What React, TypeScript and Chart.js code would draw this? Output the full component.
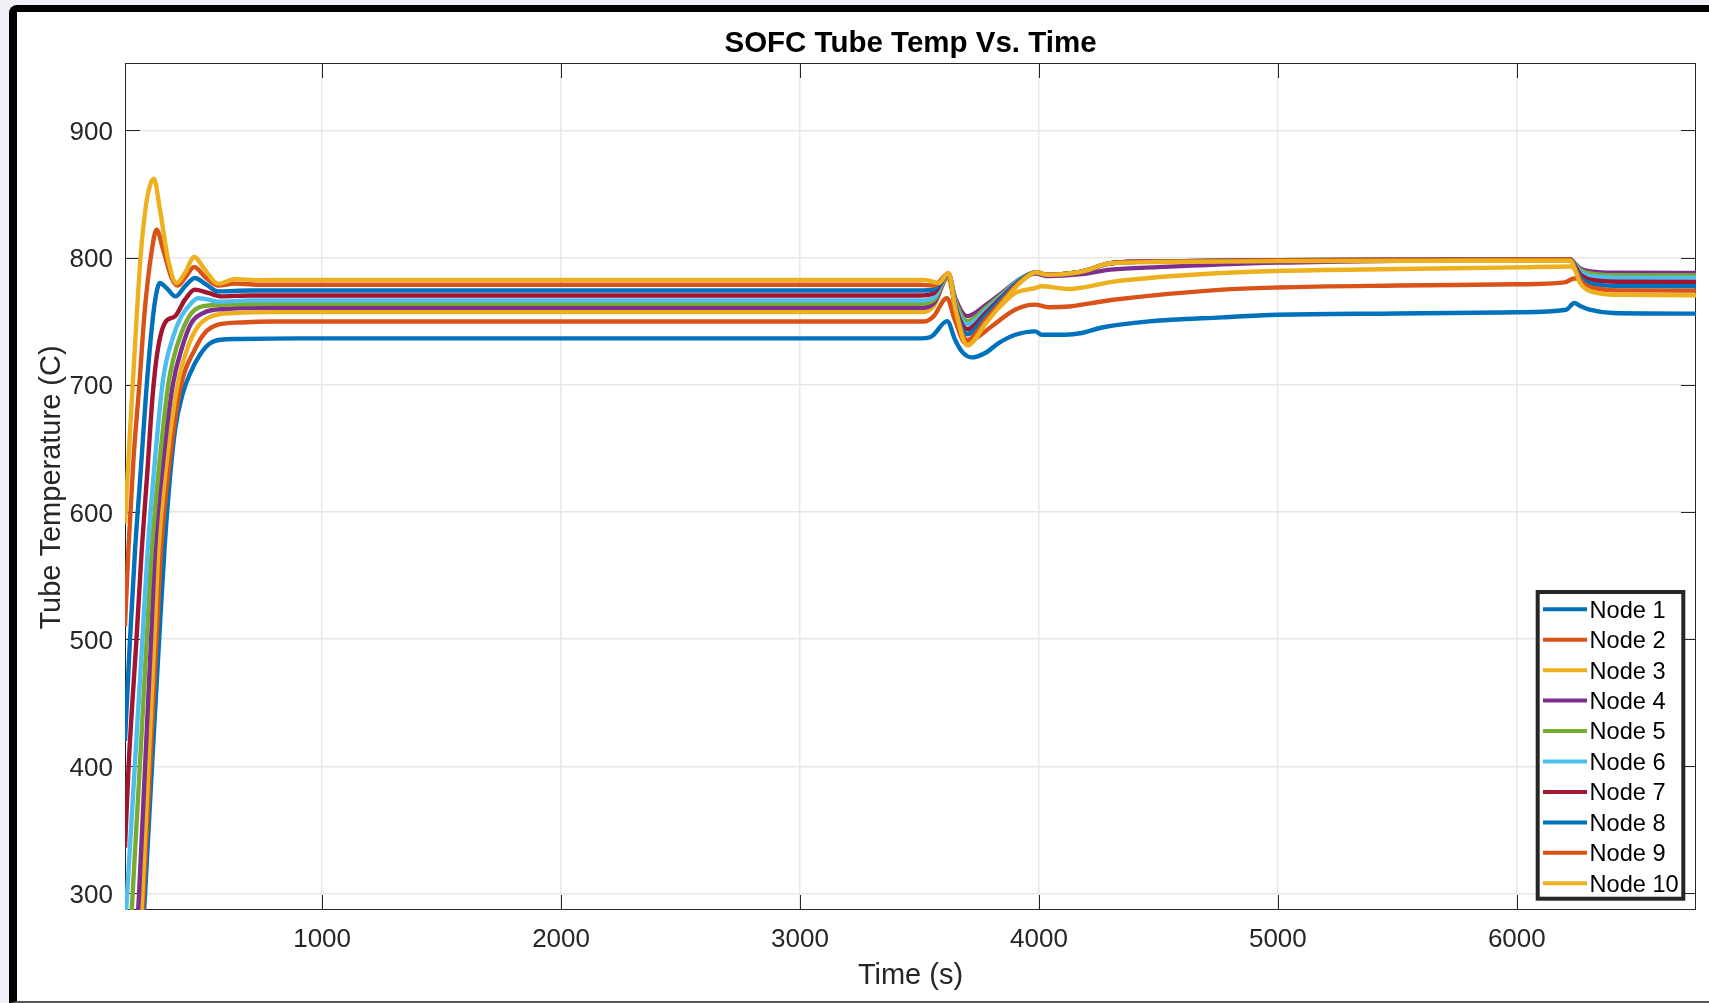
import React, { useEffect, useRef } from "react";
import { Chart, registerables } from "chart.js";

Chart.register(...registerables);

// ---------------- data ----------------
const chartTitle = "SOFC Tube Temp Vs. Time";
const xTitle = "Time (s)";
const yTitle = "Tube Temperature (C)";

const nodeLabels = ["Node 1", "Node 2", "Node 3", "Node 4", "Node 5", "Node 6", "Node 7", "Node 8", "Node 9", "Node 10"];
const nodeColors = ["#0072BD", "#D95319", "#EDB120", "#7E2F8E", "#77AC30", "#4DBEEE", "#A2142F", "#0072BD", "#D95319", "#EDB120"];

const xTicks = [1000, 2000, 3000, 4000, 5000, 6000];
const yTicks = [300, 400, 500, 600, 700, 800, 900];
const xRange = [175, 6750];
const yRange = [287, 953];

// [time (s), temperature (C)]
const node1: number[][] = [
  [175, 40], [259, 300], [288, 400], [318, 500], [340, 570], [360, 620], [385, 665], [415, 692], [450, 710],
  [490, 724], [530, 732.5], [575, 735.4], [649, 736], [900, 736.5], [3509, 736.5], [3551, 738], [3616, 750],
  [3649, 735.4], [3677, 726.2], [3719, 721.5], [3775, 725], [3831, 732.8], [3901, 739.3], [3984, 742], [4012, 739.3],
  [4110, 739.3], [4180, 740.7], [4264, 745], [4461, 749.8], [4767, 753], [5000, 755], [5500, 756], [6000, 757],
  [6206, 759], [6241, 764.3], [6265, 762], [6305, 759], [6402, 756.4], [6760, 755.9],
];
const node2: number[][] = [
  [175, 55], [253, 300], [280, 400], [307, 500], [326, 570], [362, 640], [410, 700], [467, 727.6], [509, 740.7],
  [565, 747.2], [660, 749], [800, 749.7], [3520, 749.7], [3560, 754], [3614, 768], [3650, 750], [3692, 733],
  [3730, 736], [3803, 746], [3900, 759], [3984, 763], [4040, 761], [4125, 761.5], [4264, 765.5], [4320, 767],
  [4767, 774.8], [5000, 776.5], [5500, 778], [6000, 779], [6200, 780.5], [6240, 783.5], [6265, 783.5],
  [6290, 782.5], [6340, 782], [6420, 781.6], [6760, 781.5],
];
const node3: number[][] = [
  [175, 70], [248, 300], [273, 400], [298, 500], [315, 570], [350, 640], [395, 700], [439, 730], [481, 745.9],
  [537, 753.8], [635, 756.4], [800, 757.1], [3510, 757.1], [3560, 762], [3618, 784], [3650, 762], [3705, 731],
  [3761, 750], [3831, 760.4], [3900, 772], [3984, 776], [4010, 777.4], [4125, 775.3], [4320, 781.3], [4767, 787.9],
  [5000, 789.5], [5500, 791], [6000, 792.3], [6225, 793], [6245, 790.9], [6265, 788.5], [6290, 787.2],
  [6340, 786.4], [6420, 786.1], [6760, 786],
];
const node4: number[][] = [
  [175, 110], [234, 300], [259, 400], [284, 500], [301, 570], [335, 640], [375, 700], [411, 727.6], [453, 748.6],
  [509, 757], [593, 759.6], [750, 760.5], [3500, 760.5], [3560, 764], [3622, 786], [3650, 768], [3700, 754],
  [3780, 763], [3850, 773], [3920, 783], [3990, 787.5], [4030, 785.5], [4180, 787], [4300, 790.5], [4500, 792.5],
  [5000, 796], [5500, 797.5], [6000, 798], [6225, 798], [6245, 795], [6265, 791.5], [6290, 789.7], [6340, 788.6],
  [6420, 788.1], [6760, 788],
];
const node5: number[][] = [
  [175, 190], [207, 300], [237, 400], [266, 500], [287, 570], [320, 640], [356, 700], [377, 720], [411, 740.7],
  [453, 756.4], [509, 762], [600, 763], [750, 763.7], [3500, 763.7], [3560, 766.5], [3622, 786.5], [3650, 766],
  [3700, 750], [3780, 761], [3850, 772], [3920, 783], [3990, 788.5], [4030, 786.5], [4180, 789], [4300, 795.5],
  [4500, 797], [5000, 798], [6000, 798.5], [6225, 798.5], [6245, 794.8], [6265, 790.4], [6290, 788.1],
  [6340, 786.8], [6420, 786.1], [6760, 786],
];
const node6: number[][] = [
  [175, 270], [184, 300], [216, 400], [248, 500], [270, 570], [300, 640], [335, 705], [377, 738], [411, 753.8],
  [453, 764.3], [480, 768], [509, 767.5], [565, 765.3], [700, 766.2], [3500, 766.2], [3560, 768.5], [3622, 787],
  [3650, 764], [3700, 747.5], [3780, 759], [3850, 771], [3920, 783], [3990, 788.5], [4030, 786.5], [4180, 789],
  [4300, 795.5], [4500, 797], [5000, 798], [6000, 798.5], [6225, 798.5], [6245, 794.2], [6265, 789.1],
  [6290, 786.5], [6340, 784.9], [6420, 784.1], [6760, 784],
];
const node7: number[][] = [
  [175, 336], [190, 400], [223, 500], [245, 570], [268, 630], [290, 690], [310, 725], [342, 748.6], [384, 753.8],
  [426, 766.9], [467, 774.8], [523, 772.2], [579, 769.5], [700, 770.2], [3500, 770.2], [3560, 772], [3622, 787],
  [3650, 762], [3700, 743.6], [3780, 757], [3850, 770], [3920, 782], [3990, 788.5], [4030, 786.5], [4180, 789],
  [4300, 795.5], [4500, 797], [5000, 798], [6000, 798.5], [6225, 798.5], [6245, 793.2], [6265, 787],
  [6290, 783.8], [6340, 781.9], [6420, 781], [6760, 780.8],
];
const node8: number[][] = [
  [175, 420], [196, 500], [217, 570], [240, 630], [262, 690], [282, 735], [300, 765], [321, 780], [349, 776],
  [386, 769.5], [426, 777.4], [467, 784], [516, 778.7], [565, 773.4], [700, 774.1], [3500, 774.1], [3560, 775],
  [3622, 787.5], [3650, 761], [3700, 739.7], [3780, 755], [3850, 769], [3920, 782], [3990, 788.5], [4030, 786.5],
  [4180, 789], [4300, 795.5], [4500, 797], [5000, 798], [6000, 798.5], [6225, 798.5], [6245, 792.2],
  [6265, 784.8], [6290, 781], [6340, 778.7], [6420, 777.6], [6760, 777.4],
];
const node9: number[][] = [
  [175, 510], [189, 570], [210, 640], [235, 700], [258, 759], [286, 804], [307, 822], [335, 806], [370, 784],
  [395, 778], [426, 784], [465, 792.6], [509, 785], [565, 778], [635, 779.5], [750, 778.6], [3500, 778.6],
  [3560, 778], [3622, 787.5], [3650, 760], [3700, 735], [3780, 752], [3850, 767], [3920, 781], [3990, 788.5],
  [4030, 786.5], [4180, 789], [4300, 795.5], [4500, 797], [5000, 798], [6000, 798.5], [6225, 798.5],
  [6245, 791.2], [6265, 782.6], [6290, 778.2], [6340, 775.5], [6420, 774.2], [6760, 774],
];
const node10: number[][] = [
  [175, 591], [195, 660], [215, 725], [240, 800], [262, 840], [280, 857], [296, 862], [321, 838], [356, 798],
  [391, 780], [426, 788], [465, 800.5], [509, 790.5], [565, 779.5], [635, 783], [733, 782.3], [900, 782.5],
  [3520, 782.5], [3580, 780], [3622, 788], [3650, 760], [3700, 731], [3780, 749], [3850, 765], [3920, 780],
  [3990, 788.5], [4030, 786.5], [4180, 789], [4300, 795.5], [4500, 796.5], [5000, 797.2], [6000, 797.5],
  [6225, 797.5], [6245, 789.5], [6265, 780], [6290, 775.2], [6340, 772.1], [6420, 770.7], [6760, 770.4],
];
const nodeSeries = [node1, node2, node3, node4, node5, node6, node7, node8, node9, node10];

// ---------------- layout ----------------
const CW = 1692;
const CH = 989;
const AREA = { left: 108, right: 1679, top: 51, bottom: 898 };
const FONT = '"Liberation Sans", Arial, Helvetica, sans-serif';
const AXIS_COLOR = "#262626";
const GRID_COLOR = "#e7e7e7";

const matlabPlugin = {
  id: "matlabDecor",
  beforeDatasetsDraw(chart: any) {
    const { ctx, chartArea: a, scales } = chart;
    ctx.save();
    ctx.strokeStyle = AXIS_COLOR;
    ctx.lineWidth = 1;
    ctx.strokeRect(a.left + 0.5, a.top + 0.5, a.right - a.left - 1, a.bottom - a.top - 1);
    ctx.beginPath();
    const TL = 15;
    for (const v of xTicks) {
      const px = Math.round(scales.x.getPixelForValue(v)) + 0.5;
      ctx.moveTo(px, a.bottom);
      ctx.lineTo(px, a.bottom - TL);
      ctx.moveTo(px, a.top);
      ctx.lineTo(px, a.top + TL);
    }
    for (const v of yTicks) {
      const py = Math.round(scales.y.getPixelForValue(v)) + 0.5;
      ctx.moveTo(a.left, py);
      ctx.lineTo(a.left + TL, py);
      ctx.moveTo(a.right, py);
      ctx.lineTo(a.right - TL, py);
    }
    ctx.stroke();
    ctx.restore();
  },
  afterDraw(chart: any) {
    const { ctx, chartArea: a } = chart;
    ctx.save();
    const cx = (a.left + a.right) / 2;
    const cy = (a.top + a.bottom) / 2;
    // title
    ctx.fillStyle = "#000";
    ctx.font = `bold 29.5px ${FONT}`;
    ctx.textAlign = "center";
    ctx.textBaseline = "alphabetic";
    ctx.fillText(chartTitle, cx, 40);
    // x label
    ctx.fillStyle = AXIS_COLOR;
    ctx.font = `29px ${FONT}`;
    ctx.fillText(xTitle, cx, 971.5);
    // y label
    ctx.save();
    ctx.translate(42.5, cy + 1);
    ctx.rotate(-Math.PI / 2);
    ctx.fillText(yTitle, 0, 0);
    ctx.restore();

    // legend
    const bx = 1520.7, by = 580, bw = 145.6, bh = 306.7;
    ctx.fillStyle = "#fff";
    ctx.fillRect(bx, by, bw, bh);
    ctx.strokeStyle = AXIS_COLOR;
    ctx.lineWidth = 4;
    ctx.strokeRect(bx, by, bw, bh);
    ctx.font = `23.6px ${FONT}`;
    ctx.textAlign = "left";
    for (let i = 0; i < nodeLabels.length; i++) {
      const yy = 597.3 + i * 30.44;
      ctx.strokeStyle = nodeColors[i];
      ctx.lineWidth = 4;
      ctx.beginPath();
      ctx.moveTo(1526, yy);
      ctx.lineTo(1570, yy);
      ctx.stroke();
      ctx.fillStyle = "#000";
      ctx.fillText(nodeLabels[i], 1572.5, yy + 8.4);
    }
    ctx.restore();
  },
};

export default function App() {
  const canvasRef = useRef<HTMLCanvasElement | null>(null);

  useEffect(() => {
    const canvas = canvasRef.current;
    if (!canvas) return;
    const datasets = nodeSeries.map((series, i) => ({
      label: nodeLabels[i],
      data: series.map(([x, y]) => ({ x, y })),
      borderColor: nodeColors[i],
      backgroundColor: nodeColors[i],
      borderWidth: 4.4,
      pointRadius: 0,
      cubicInterpolationMode: "monotone" as const,
      fill: false,
      clip: 0,
      order: nodeLabels.length - 1 - i,
    }));

    const chart = new Chart(canvas, {
      type: "line",
      data: { datasets },
      options: {
        animation: false,
        responsive: false,
        maintainAspectRatio: false,
        devicePixelRatio: 1,
        events: [],
        layout: { padding: { left: 0, right: CW - AREA.right, top: AREA.top, bottom: 0 } },
        plugins: {
          legend: { display: false },
          tooltip: { enabled: false },
          title: { display: false },
        },
        scales: {
          x: {
            type: "linear",
            min: xRange[0],
            max: xRange[1],
            afterFit: (s: any) => {
              s.height = CH - AREA.bottom;
            },
            afterBuildTicks: (s: any) => {
              s.ticks = xTicks.map((v) => ({ value: v }));
            },
            grid: { color: GRID_COLOR, lineWidth: 1.5, drawTicks: false },
            border: { display: false },
            ticks: {
              color: AXIS_COLOR,
              font: { family: FONT, size: 26 },
              padding: 14,
              maxRotation: 0,
              autoSkip: false,
              callback: (v: any) => String(v),
            },
          },
          y: {
            type: "linear",
            min: yRange[0],
            max: yRange[1],
            afterFit: (s: any) => {
              s.width = AREA.left;
            },
            afterBuildTicks: (s: any) => {
              s.ticks = yTicks.map((v) => ({ value: v }));
            },
            grid: { color: GRID_COLOR, lineWidth: 1.5, drawTicks: false },
            border: { display: false },
            ticks: {
              color: AXIS_COLOR,
              font: { family: FONT, size: 26 },
              padding: 12,
              labelOffset: 2.5,
              autoSkip: false,
              callback: (v: any) => String(v),
            },
          },
        },
      },
      plugins: [matlabPlugin],
    });
    return () => chart.destroy();
  }, []);

  return (
    <div
      style={{
        position: "fixed",
        left: 0,
        top: 0,
        width: 1709,
        height: 1003,
        background: "#f2eff6",
        overflow: "hidden",
      }}
    >
      <div
        style={{
          position: "absolute",
          left: 9,
          top: 5,
          width: 1710,
          height: 998,
          boxSizing: "border-box",
          borderLeft: "8px solid #000",
          borderTop: "7px solid #000",
          borderBottom: "2px solid #555",
          borderTopLeftRadius: 8,
          background: "#fff",
        }}
      />
      <canvas
        ref={canvasRef}
        width={CW}
        height={CH}
        style={{ position: "absolute", left: 17, top: 12, width: CW, height: CH }}
      />
    </div>
  );
}
